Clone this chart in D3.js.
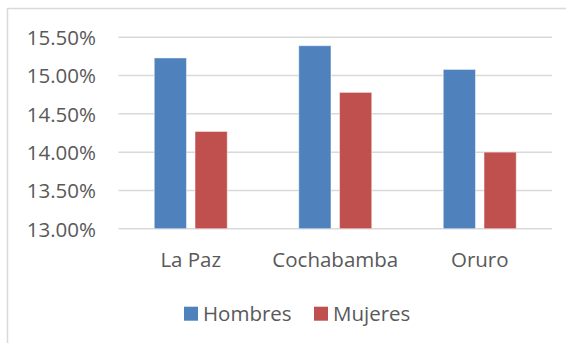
<!DOCTYPE html>
<html>
<head>
<meta charset="utf-8">
<script src="https://cdn.jsdelivr.net/npm/d3@7"></script>
<style>
  html, body { margin: 0; padding: 0; background: #fff; }
  svg { display: block; }
  text { font-family: "Open Sans", sans-serif; fill: #595959; }
</style>
</head>
<body>
<svg id="chart" width="566" height="343"></svg>
<script>
// Data
const categories = ["La Paz", "Cochabamba", "Oruro"];
const seriesNames = ["Hombres", "Mujeres"];
const hombres = [15.23, 15.39, 15.08];
const mujeres = [14.27, 14.78, 14.00];
const yTicks = [13.0, 13.5, 14.0, 14.5, 15.0, 15.5];
const colors = ["#4f81bd", "#c0504d"];

const svg = d3.select("#chart");
const W = 566, H = 343;
const fontSize = "20.5px";

// Chart frame (left and top edges visible)
svg.append("line").attr("x1", 7.5).attr("x2", 7.5).attr("y1", 8).attr("y2", H)
  .attr("stroke", "#d9d9d9").attr("stroke-width", 1.5);
svg.append("line").attr("x1", 7).attr("x2", W).attr("y1", 8.5).attr("y2", 8.5)
  .attr("stroke", "#d9d9d9").attr("stroke-width", 1.5);

const plot = { left: 118.5, right: 552, top: 37.3, bottom: 228.7 };

const y = d3.scaleLinear().domain([13.0, 15.5]).range([plot.bottom, plot.top]);
const x0 = d3.scaleBand().domain(categories).range([plot.left, plot.right]).paddingInner(0.495).paddingOuter(0.2475);
const x1 = d3.scaleBand().domain(seriesNames).range([0, x0.bandwidth()]).paddingInner(0.21);

// Gridlines
svg.append("g").selectAll("line").data(yTicks).join("line")
  .attr("x1", plot.left).attr("x2", plot.right)
  .attr("y1", d => y(d)).attr("y2", d => y(d))
  .attr("stroke", "#d9d9d9").attr("stroke-width", 1.5);

// Y axis labels
const yAxis = d3.axisLeft(y).tickValues(yTicks).tickSize(0).tickPadding(0)
  .tickFormat(d => d.toFixed(2) + "%");
const gy = svg.append("g").attr("transform", `translate(96,0)`).call(yAxis);
gy.select(".domain").remove();
gy.selectAll("text").style("font-size", fontSize).attr("fill", "#595959")
  .style("font-family", "'Open Sans', sans-serif").attr("dy", "0.36em");

// Bars
const rows = categories.map((c, i) => ({ cat: c, vals: [hombres[i], mujeres[i]] }));
const groups = svg.append("g").selectAll("g").data(rows).join("g")
  .attr("transform", d => `translate(${x0(d.cat)},0)`);
groups.selectAll("rect").data(d => d.vals.map((v, j) => ({ name: seriesNames[j], v, j })))
  .join("rect")
  .attr("x", d => x1(d.name))
  .attr("width", x1.bandwidth())
  .attr("y", d => y(d.v))
  .attr("height", d => y(13.0) - y(d.v))
  .attr("fill", d => colors[d.j])
  .attr("stroke", "#ffffff").attr("stroke-opacity", 0.45).attr("stroke-width", 1);

// X axis labels
const xAxis = d3.axisBottom(x0).tickSize(0).tickPadding(0);
const gx = svg.append("g").attr("transform", `translate(0,${plot.bottom})`).call(xAxis);
gx.select(".domain").remove();
gx.selectAll("text").style("font-size", fontSize).attr("fill", "#595959")
  .style("font-family", "'Open Sans', sans-serif").attr("y", 38).attr("dy", 0);

// Legend
const legendItems = [{ x: 184, name: seriesNames[0], c: colors[0] }, { x: 314, name: seriesNames[1], c: colors[1] }];
const lg = svg.append("g").selectAll("g").data(legendItems).join("g")
  .attr("transform", d => `translate(${d.x},0)`);
lg.append("rect").attr("x", 0).attr("y", 306.7).attr("width", 14).attr("height", 14).attr("fill", d => d.c);
lg.append("text").attr("x", 19).attr("y", 320.5).style("font-size", fontSize).text(d => d.name);
</script>
</body>
</html>
